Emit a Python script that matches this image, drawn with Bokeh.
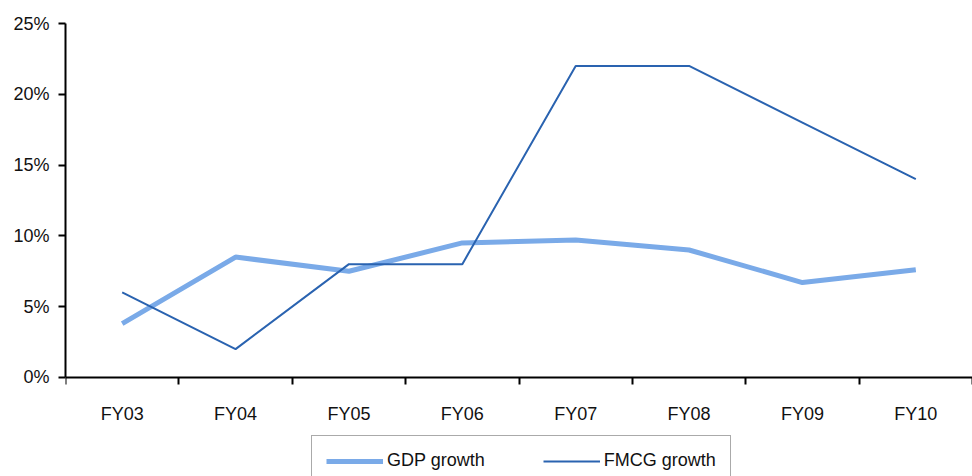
from bokeh.plotting import figure
from bokeh.models import (ColumnDataSource, FixedTicker, Range1d, Legend, LegendItem)
from bokeh.embed import file_html
from bokeh.resources import INLINE

categories = ["FY03", "FY04", "FY05", "FY06", "FY07", "FY08", "FY09", "FY10"]
gdp_growth = [3.8, 8.5, 7.5, 9.5, 9.7, 9.0, 6.7, 7.6]
fmcg_growth = [6, 2, 8, 8, 22, 22, 18, 14]
y_ticks = [0, 5, 10, 15, 20, 25]

FONT = "Liberation Sans Narrow, Arial Narrow, Liberation Sans, sans-serif"

x_pos = [i + 0.5 for i in range(len(categories))]
src = ColumnDataSource(dict(x=x_pos, gdp=gdp_growth, fmcg=fmcg_growth))

# frame spans to the bottom of the page; the x axis sits at y = 0
p = figure(width=972, height=476, output_backend="svg", toolbar_location=None,
           x_range=Range1d(0, len(categories)), y_range=Range1d(-7, 25),
           min_border_left=65, min_border_right=0, min_border_top=23,
           min_border_bottom=0)
p.outline_line_color = None
p.grid.grid_line_color = None
p.background_fill_color = "white"
p.border_fill_color = "white"

r_gdp = p.line("x", "gdp", source=src, line_color="#7AAAE8", line_width=5)
r_fmcg = p.line("x", "fmcg", source=src, line_color="#2A63B0", line_width=2)

# x axis: labels at category centers, ticks at category boundaries
xa = p.xaxis[0]
xa.fixed_location = 0
xa.ticker = FixedTicker(ticks=x_pos, minor_ticks=list(range(len(categories) + 1)))
xa.major_label_overrides = {x: c for x, c in zip(x_pos, categories)}
xa.major_tick_out = 0
xa.major_tick_in = 0
xa.minor_tick_out = 7
xa.minor_tick_in = 0
xa.minor_tick_line_color = "black"
xa.minor_tick_line_width = 2
xa.axis_line_color = "black"
xa.axis_line_width = 2
xa.major_label_standoff = 20
xa.major_label_text_font = FONT
xa.major_label_text_font_size = "18px"
xa.major_label_text_color = "#111111"

ya = p.yaxis[0]
ya.bounds = (0, 25)
ya.ticker = FixedTicker(ticks=y_ticks, minor_ticks=[])
ya.major_label_overrides = {t: f"{t}%" for t in y_ticks}
ya.major_tick_out = 7
ya.major_tick_in = 0
ya.major_tick_line_width = 2
ya.axis_line_width = 2
ya.major_label_standoff = 9
ya.major_label_text_font = FONT
ya.major_label_text_font_size = "18px"
ya.major_label_text_color = "#111111"

legend = Legend(items=[LegendItem(label="GDP growth", renderers=[r_gdp]),
                       LegendItem(label="FMCG growth", renderers=[r_fmcg])],
                orientation="horizontal", location=(246, -10),
                glyph_width=57, glyph_height=20, label_standoff=4, spacing=58,
                padding=14, margin=0,
                label_text_font=FONT, label_text_font_size="18px",
                label_text_color="#111111",
                border_line_color="#555555", border_line_width=1,
                background_fill_alpha=1)
p.add_layout(legend, "center")

open("out.html", "w").write(file_html(p, INLINE))
